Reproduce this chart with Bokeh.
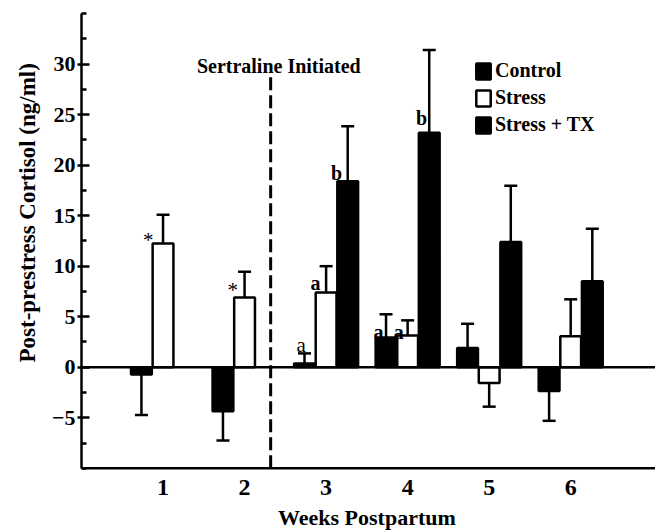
from bokeh.plotting import figure
from bokeh.models import (Range1d, FixedTicker, Span, Label, Legend, LegendItem,
                          Whisker, TeeHead, ColumnDataSource, Title)
from bokeh.core.properties import value
from bokeh.embed import file_html
from bokeh.resources import INLINE

# ---- data ----
weeks = [1, 2, 3, 4, 5, 6]
control = [-0.72, -4.35, 0.37, 2.94, 1.9, -2.35]
control_err = [4.0, 2.9, 1.0, 2.3, 2.4, 2.95]
stress = [12.25, 6.9, 7.4, 3.14, -1.55, 3.07]
stress_err = [2.85, 2.55, 2.6, 1.5, 2.35, 3.65]
tx_weeks = [3, 4, 5, 6]
tx = [18.4, 23.2, 12.4, 8.5]
tx_err = [5.45, 8.2, 5.55, 5.2]

y_major = [-5, 0, 5, 10, 15, 20, 25, 30]
y_minor = [-10, -7.5, -2.5, 2.5, 7.5, 12.5, 17.5, 22.5, 27.5, 32.5, 35]
x_ticks = [1, 2, 3, 4, 5, 6]
x_tick_labels = ["1", "2", "3", "4", "5", "6"]
Y_BOTTOM, Y_TOP = -10, 35

sertraline_week = 2.32
sertraline_top = 29.0

# significance marks: (x in weeks, y in ng/ml, text, bold)
ann_x = [0.818, 1.855, 2.693, 2.871, 3.129, 3.644, 3.89, 4.172]
ann_y = [12.6, 7.6, 2.18, 8.32, 19.18, 3.5, 3.5, 24.62]
ann_text = ["*", "*", "a", "a", "b", "a", "a", "b"]
ann_bold = [False, False, False, True, True, True, True, True]

FONT = "Liberation Serif"
OFF = 0.265
W = 0.255

# the frame is extended below the x axis so the axis texts can sit in it
p = figure(width=655, height=532, title=None, x_axis_location=None,
           x_range=Range1d(0, 7.04), y_range=Range1d(-16.35, Y_TOP),
           output_backend="svg", toolbar_location=None,
           min_border_left=81, min_border_top=13, min_border_right=0, min_border_bottom=0)
p.outline_line_color = None
p.xgrid.visible = False
p.ygrid.visible = False
p.background_fill_color = "white"
p.border_fill_color = "white"

ya = p.yaxis[0]
ya.bounds = (Y_BOTTOM, Y_TOP)
ya.ticker = FixedTicker(ticks=y_major, minor_ticks=y_minor)
ya.axis_line_width = 2.5
ya.axis_line_color = "black"
ya.major_tick_in = 8
ya.major_tick_out = 4
ya.major_tick_line_width = 2.5
ya.major_tick_line_color = "black"
ya.minor_tick_in = 5
ya.minor_tick_out = 0
ya.minor_tick_line_width = 2.5
ya.minor_tick_line_color = "black"
ya.major_label_standoff = 2
ya.major_label_text_font = FONT
ya.major_label_text_font_style = "bold"
ya.major_label_text_font_size = "22px"
ya.major_label_text_color = "black"

# y axis title
p.add_layout(Title(text="Post-prestress Cortisol (ng/ml)", align="left", offset=170,
                   standoff=18, text_font=FONT, text_font_style="bold",
                   text_font_size="23px", text_color="black"), "left")

# x axis line, zero line
p.add_layout(Span(location=Y_BOTTOM, dimension="width", line_color="black", line_width=2.5))
p.add_layout(Span(location=0, dimension="width", line_color="black", line_width=2.5))

# x tick labels and title
p.text(x=x_ticks, y=[Y_BOTTOM] * len(x_ticks), text=x_tick_labels, y_offset=19,
       text_font=value(FONT), text_font_style="bold", text_font_size="24px",
       text_align="center", text_baseline="alphabetic", text_color="black")
p.text(x=[3.5], y=[Y_BOTTOM], text=["Weeks Postpartum"], y_offset=49,
       text_font=value(FONT), text_font_style="bold", text_font_size="22px",
       text_align="center", text_baseline="alphabetic", text_color="black")

# bars
r_c = p.vbar(x=[w - OFF for w in weeks], top=control, bottom=0, width=W,
             fill_color="black", line_color="black", line_width=2.5)
r_s = p.vbar(x=weeks, top=stress, bottom=0, width=W,
             fill_color="white", line_color="black", line_width=2.5)
r_t = p.vbar(x=[w + OFF for w in tx_weeks], top=tx, bottom=0, width=W,
             fill_color="black", line_color="black", line_width=2.5)

# error bars (one-sided, away from zero)
pos = dict(x=[], lower=[], upper=[])
neg = dict(x=[], lower=[], upper=[])
for xs, vals, errs in (([w - OFF for w in weeks], control, control_err),
                       (weeks, stress, stress_err),
                       ([w + OFF for w in tx_weeks], tx, tx_err)):
    for xv, v, e in zip(xs, vals, errs):
        if v >= 0:
            pos["x"].append(xv); pos["lower"].append(v); pos["upper"].append(v + e)
        else:
            neg["x"].append(xv); neg["lower"].append(v - e); neg["upper"].append(v)

p.add_layout(Whisker(source=ColumnDataSource(pos), base="x", lower="lower", upper="upper",
                     dimension="height", line_width=2.5, line_color="black",
                     upper_head=TeeHead(size=13, line_width=2.5, line_color="black"),
                     lower_head=None))
p.add_layout(Whisker(source=ColumnDataSource(neg), base="x", lower="lower", upper="upper",
                     dimension="height", line_width=2.5, line_color="black",
                     lower_head=TeeHead(size=13, line_width=2.5, line_color="black"),
                     upper_head=None))

# sertraline line
p.segment(x0=[sertraline_week], y0=[Y_BOTTOM], x1=[sertraline_week], y1=[sertraline_top],
          line_color="black", line_width=3, line_dash="13 5")
p.add_layout(Label(x=sertraline_week + 0.1, y=29.8, text="Sertraline Initiated",
                   text_align="center", text_baseline="alphabetic",
                   text_font=FONT, text_font_style="bold", text_font_size="20px",
                   text_color="black"))

# significance marks
for bold in (False, True):
    idx = [i for i, b in enumerate(ann_bold) if b == bold]
    p.text(x=[ann_x[i] for i in idx], y=[ann_y[i] for i in idx],
           text=[ann_text[i] for i in idx],
           text_font=value(FONT), text_font_style="bold" if bold else "normal",
           text_font_size="21px" if not bold else "20px",
           text_align="center", text_baseline="alphabetic", text_color="black")

# legend
legend = Legend(items=[LegendItem(label="Control", renderers=[r_c]),
                       LegendItem(label="Stress", renderers=[r_s]),
                       LegendItem(label="Stress + TX", renderers=[r_t])],
                location="top_left", padding=0, margin=0, spacing=4,
                glyph_width=18, glyph_height=20, label_height=20, label_standoff=3,
                label_text_font=FONT, label_text_font_style="bold",
                label_text_font_size="20px", label_text_color="black",
                border_line_color=None, background_fill_alpha=0)
legend.location = (393, 396)
p.add_layout(legend)

open("out.html", "w").write(file_html(p, INLINE))
